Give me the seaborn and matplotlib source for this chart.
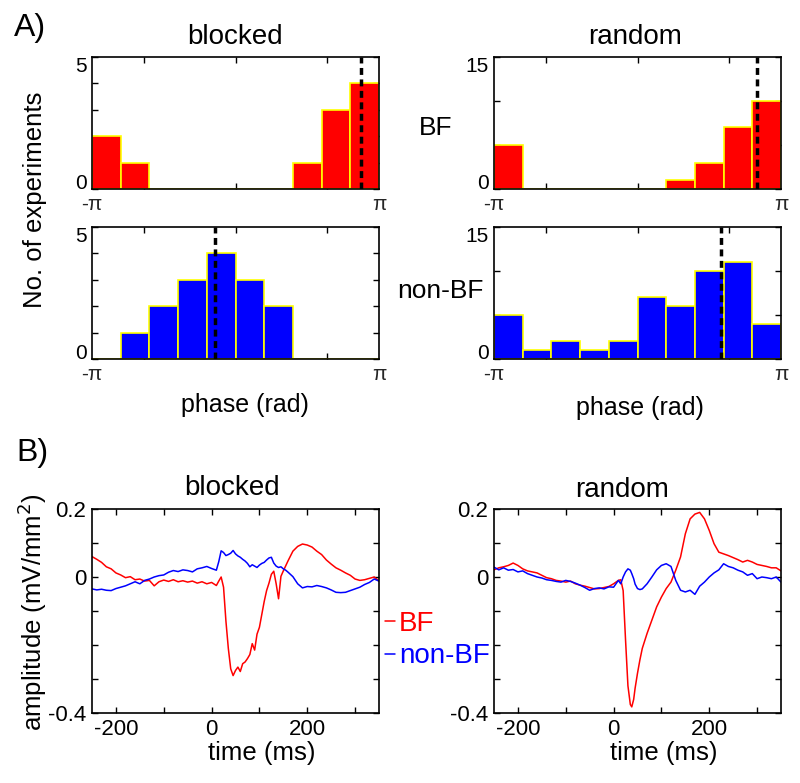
import numpy as np
import pandas as pd
import matplotlib
matplotlib.use("Agg")
import matplotlib.pyplot as plt
import seaborn as sns

# ---- histogram data (counts per phase bin, 10 bins from -pi to pi) ----
n_bins = 10
blocked_bf = [2, 1, 0, 0, 0, 0, 0, 1, 3, 4]
blocked_nonbf = [0, 1, 2, 3, 4, 3, 2, 0, 0, 0]
random_bf = [5, 0, 0, 0, 0, 0, 1, 3, 7, 10]
random_nonbf = [5, 1, 2, 1, 2, 7, 6, 10, 11, 4]
# mean phases (dashed lines)
mean_blocked_bf = 2.74
mean_blocked_nonbf = -0.44
mean_random_bf = 2.61
mean_random_nonbf = 1.83

# ---- averaged traces ----
t_blocked = [-250, -240, -230, -220, -210, -200, -190, -180, -170, -160, -150, -140, -130,
             -120, -110, -100, -90, -80, -70, -60, -50, -40, -30, -20, -10, 0, 10,
             15, 20, 25, 30, 35, 40, 45, 50, 55, 60, 65, 70, 75, 80, 85, 90, 95, 100,
             105, 110, 115, 120, 125, 130, 135, 140, 145, 150, 155, 160,
             170, 180, 190, 200, 210, 220, 230, 240, 250, 260, 270, 280, 290, 300,
             310, 320, 330, 340, 350]
blocked_bf_amp = [0.060, 0.052, 0.043, 0.030, 0.024, 0.012, 0.006, -0.002, 0.001, -0.008,
                  -0.006, -0.012, -0.010, -0.026, -0.014, -0.009, -0.013, -0.008, -0.014,
                  -0.011, -0.015, -0.012, -0.018, -0.014, -0.020, -0.016, -0.025,
                  -0.012, 0.000, -0.030, -0.130, -0.210, -0.270, -0.290, -0.275, -0.265,
                  -0.278, -0.255, -0.250, -0.240, -0.228, -0.196, -0.215, -0.168, -0.148,
                  -0.110, -0.072, -0.040, -0.018, 0.008, 0.017, -0.020, -0.064, 0.002,
                  0.018, 0.033, 0.048,
                  0.076, 0.090, 0.097, 0.094, 0.088, 0.076, 0.066, 0.050, 0.038, 0.027,
                  0.020, 0.012, 0.005, -0.006, -0.010, -0.008, -0.004, 0.000, -0.012]
blocked_nonbf_amp = [-0.035, -0.038, -0.036, -0.039, -0.040, -0.034, -0.030, -0.026, -0.020,
                     -0.014, -0.020, -0.010, -0.006, 0.000, 0.004, 0.006, 0.014, 0.019,
                     0.016, 0.021, 0.019, 0.015, 0.024, 0.027, 0.031, 0.025, 0.020,
                     0.045, 0.077, 0.072, 0.063, 0.066, 0.070, 0.078, 0.068, 0.062, 0.058,
                     0.052, 0.047, 0.040, 0.030, 0.036, 0.032, 0.028, 0.035, 0.040, 0.043,
                     0.050, 0.056, 0.058, 0.041, 0.032, 0.028, 0.030, 0.024, 0.020, 0.014,
                     0.001, -0.020, -0.032, -0.028, -0.029, -0.025, -0.028, -0.032, -0.038,
                     -0.045, -0.046, -0.045, -0.040, -0.035, -0.030, -0.022, -0.016,
                     -0.006, -0.012]

t_random = [-250, -240, -230, -220, -210, -200, -190, -180, -170, -160, -150, -140, -130,
            -120, -110, -100, -90, -80, -70, -60, -50, -40, -30, -20, -10, 0, 10,
            15, 20, 25, 30, 35, 38, 42, 45, 50, 55, 60,
            70, 80, 90, 100, 110, 120, 130, 140, 150, 160, 170, 180, 190, 200, 210,
            220, 230, 240, 250, 260, 270, 280, 290, 300, 310, 320, 330, 340, 350]
random_bf_amp = [0.021, 0.027, 0.030, 0.034, 0.041, 0.034, 0.024, 0.018, 0.015, 0.012,
                 0.005, -0.002, -0.005, -0.010, -0.012, -0.015, -0.012, -0.020, -0.024,
                 -0.027, -0.031, -0.035, -0.034, -0.031, -0.028, -0.020, -0.010,
                 -0.008, -0.040, -0.185, -0.320, -0.375, -0.382, -0.360, -0.327, -0.283,
                 -0.244, -0.210,
                 -0.166, -0.127, -0.088, -0.059, -0.034, -0.015, 0.020, 0.059, 0.127,
                 0.171, 0.185, 0.190, 0.171, 0.137, 0.098, 0.073, 0.068, 0.063, 0.057,
                 0.051, 0.044, 0.049, 0.044, 0.037, 0.034, 0.031, 0.027, 0.027, 0.018]
random_nonbf_amp = [0.029, 0.021, 0.027, 0.020, 0.022, 0.015, 0.018, 0.010, 0.005, 0.000,
                    -0.003, -0.008, -0.010, -0.013, -0.015, -0.010, -0.013, -0.018, -0.024,
                    -0.031, -0.039, -0.034, -0.032, -0.035, -0.029, -0.030, -0.010,
                    -0.020, 0.000, 0.015, 0.024, 0.020, 0.010, -0.005, -0.021, -0.034,
                    -0.037, -0.035,
                    -0.020, 0.000, 0.021, 0.034, 0.039, 0.031, -0.010, -0.039, -0.044,
                    -0.039, -0.051, -0.027, -0.015, 0.000, 0.012, 0.021, 0.039, 0.031,
                    0.027, 0.020, 0.015, 0.005, 0.010, -0.005, 0.000, -0.002, -0.005,
                    0.000, -0.015]

sns.set_style("ticks")
plt.rcParams['font.family'] = ['Liberation Sans', 'DejaVu Sans']
plt.rcParams['font.size'] = 15
plt.rcParams['text.color'] = 'black'
plt.rcParams['axes.labelcolor'] = 'black'

fig = plt.figure(figsize=(8, 7.83), dpi=100)
W, H = 800, 783


def px_axes(x0, y0, x1, y1):
    return fig.add_axes([x0 / W, 1 - y1 / H, (x1 - x0) / W, (y1 - y0) / H])


def style_box(ax):
    for s in ax.spines.values():
        s.set_visible(True)
        s.set_color('black')
        s.set_linewidth(1.2)
    ax.tick_params(direction='in', top=True, right=True, length=4, width=1,
                   labelsize=15, pad=4, colors='black')


edges = np.linspace(-np.pi, np.pi, n_bins + 1)
centers = (edges[:-1] + edges[1:]) / 2


def phase_hist(ax, counts, color, mean_phase, ymax):
    df = pd.DataFrame({'phase': centers, 'count': counts})
    sns.histplot(data=df, x='phase', weights='count', bins=list(edges), color=color,
                 alpha=1, edgecolor='#ffff00', linewidth=1.2, ax=ax)
    ax.axvline(mean_phase, color='black', ls=(0, (2, 1.3)), lw=2.5)
    ax.set_xlim(-np.pi, np.pi)
    ax.set_ylim(0, ymax)
    style_box(ax)
    ax.set_xticks([-2, 0, 2])
    ax.set_xticklabels([])
    ax.set_xticks([-np.pi, 0, np.pi], minor=True)
    ax.set_xticklabels(['-π', '0', 'π'], minor=True)
    ax.tick_params(axis='x', which='minor', length=0, labelsize=15, pad=4)
    if ymax == 5:
        ax.set_yticks([0, 1, 2, 3, 4, 5])
        ax.set_yticklabels(['0', '', '', '', '', '5'])
    else:
        ax.set_yticks([0, 5, 10, 15])
        ax.set_yticklabels(['0', '', '', '15'])
    ylabs = ax.get_yticklabels()
    ylabs[0].set_va('baseline')
    ylabs[-1].set_va('top')
    ax.set_xlabel('')
    ax.set_ylabel('')


ax1 = px_axes(92, 57, 379, 189)
phase_hist(ax1, blocked_bf, '#ff0000', mean_blocked_bf, 5)
ax2 = px_axes(494, 57, 781, 189)
phase_hist(ax2, random_bf, '#ff0000', mean_random_bf, 15)
ax3 = px_axes(92, 227, 379, 359)
phase_hist(ax3, blocked_nonbf, '#0000ff', mean_blocked_nonbf, 5)
ax4 = px_axes(494, 227, 781, 359)
phase_hist(ax4, random_nonbf, '#0000ff', mean_random_nonbf, 15)


def trace_axes(ax, t, bf, nonbf):
    sns.lineplot(x=t, y=bf, color='#ff0000', lw=1.1, estimator=None, sort=False,
                 ax=ax, label='BF')
    sns.lineplot(x=t, y=nonbf, color='#0000ff', lw=1.1, estimator=None, sort=False,
                 ax=ax, label='non-BF')
    ax.set_xlim(-250, 350)
    ax.set_ylim(-0.4, 0.2)
    style_box(ax)
    ax.set_xticks([-200, -100, 0, 100, 200, 300])
    ax.set_xticklabels(['-200', '', '0', '', '200', ''])
    ax.set_yticks([0.2, 0.1, 0, -0.1, -0.2, -0.3, -0.4])
    ax.set_yticklabels(['0.2', '', '0', '', '', '', '-0.4'])
    ax.tick_params(labelsize=16)
    ax.get_legend().remove()


ax5 = px_axes(92, 509, 379, 713)
trace_axes(ax5, t_blocked, blocked_bf_amp, blocked_nonbf_amp)
ax6 = px_axes(494, 509, 781, 713)
trace_axes(ax6, t_random, random_bf_amp, random_nonbf_amp)

handles, labels = ax5.get_legend_handles_labels()
fig.legend(handles, labels, loc='center left', bbox_to_anchor=(385 / W, 1 - 640 / H),
           frameon=False, borderpad=0, borderaxespad=0, handlelength=0.35,
           handletextpad=0.15, labelspacing=0.25, labelcolor='linecolor', fontsize=20)


def ftext(x, y, s, **kw):
    fig.text(x / W, 1 - y / H, s, ha='center', va='center', **kw)


ftext(30, 28, 'A)', fontsize=23)
ftext(32, 453, 'B)', fontsize=23)
ftext(235, 37, 'blocked', fontsize=20)
ftext(635, 37, 'random', fontsize=20)
ftext(232, 488, 'blocked', fontsize=20)
ftext(622, 490, 'random', fontsize=20)
ftext(436, 128, 'BF', fontsize=19)
ftext(440, 291, 'non-BF', fontsize=19)
ftext(35, 200, 'No. of experiments', fontsize=18.5, rotation=90)
ftext(32, 612, 'amplitude (mV/mm$^2$)', fontsize=18.5, rotation=90)
ftext(245, 405, 'phase (rad)', fontsize=18)
ftext(640, 408, 'phase (rad)', fontsize=18)
ftext(262, 753, 'time (ms)', fontsize=18.5)
ftext(664, 753, 'time (ms)', fontsize=18.5)

fig.savefig('out.png', dpi=100)
